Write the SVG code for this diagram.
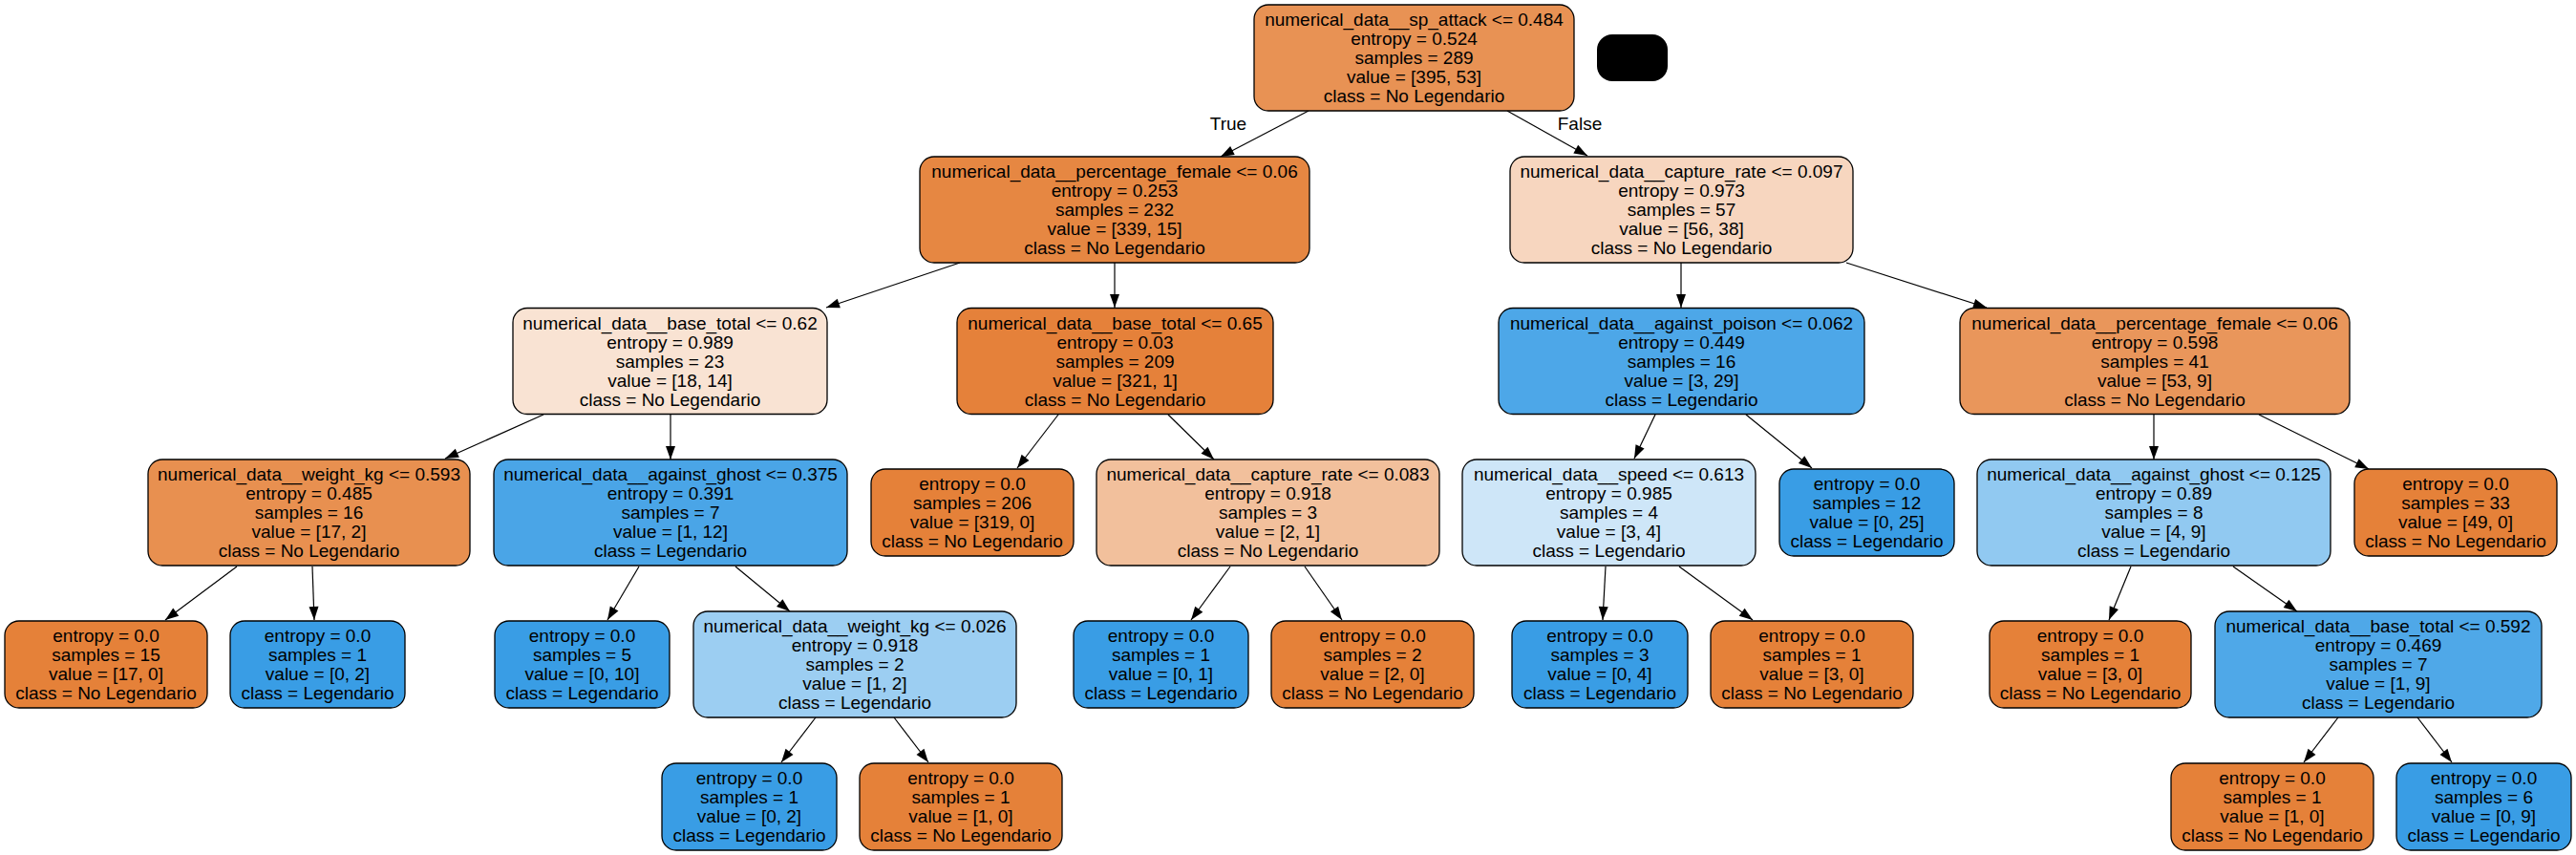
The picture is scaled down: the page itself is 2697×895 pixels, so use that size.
<svg xmlns="http://www.w3.org/2000/svg" width="2697" height="895" viewBox="0 0 2697 895">
<style>
.n rect{stroke:#000;stroke-width:1.3}
text{font-family:"Liberation Sans",Arial,sans-serif;font-size:19px;fill:#000;text-anchor:middle}
.e line{stroke:#000;stroke-width:1.2;marker-end:url(#arr)}
</style>
<defs>
<marker id="arr" markerUnits="userSpaceOnUse" markerWidth="15" markerHeight="11" refX="14" refY="5" orient="auto" overflow="visible"><path d="M0,0 L14,5 L0,10 z" fill="#000"/></marker>
</defs>
<rect width="2697" height="895" fill="#fff"/>
<g id="edges" class="e">
<line x1="1370" y1="116" x2="1278" y2="164"/>
<line x1="1578" y1="116" x2="1662" y2="163"/>
<line x1="1005" y1="275" x2="865" y2="322"/>
<line x1="1167" y1="275" x2="1167" y2="322"/>
<line x1="569" y1="434" x2="466" y2="480"/>
<line x1="702" y1="434" x2="702" y2="481"/>
<line x1="248" y1="593" x2="173" y2="649"/>
<line x1="327" y1="593" x2="329" y2="649"/>
<line x1="669" y1="593" x2="636" y2="649"/>
<line x1="770" y1="593" x2="827" y2="640"/>
<line x1="854" y1="751" x2="818" y2="798"/>
<line x1="936" y1="751" x2="972" y2="798"/>
<line x1="1108" y1="434" x2="1065" y2="490"/>
<line x1="1223" y1="434" x2="1271" y2="481"/>
<line x1="1288" y1="593" x2="1247" y2="649"/>
<line x1="1366" y1="593" x2="1405" y2="649"/>
<line x1="1760" y1="275" x2="1760" y2="322"/>
<line x1="1933" y1="275" x2="2080" y2="322"/>
<line x1="1733" y1="434" x2="1711" y2="480"/>
<line x1="1828" y1="434" x2="1897" y2="490"/>
<line x1="1681" y1="593" x2="1678" y2="649"/>
<line x1="1758" y1="593" x2="1835" y2="649"/>
<line x1="2255" y1="434" x2="2255" y2="481"/>
<line x1="2365" y1="434" x2="2480" y2="491"/>
<line x1="2231" y1="593" x2="2208" y2="649"/>
<line x1="2338" y1="593" x2="2405" y2="640"/>
<line x1="2448" y1="751" x2="2412" y2="798"/>
<line x1="2531" y1="751" x2="2567" y2="798"/>
<text x="1286" y="136">True</text>
<text x="1654" y="136">False</text>
</g>
<g id="legend"><rect x="1672" y="36" width="74" height="49" rx="16" fill="#000"/></g>
<g id="n0" class="n"><rect x="1313" y="5" width="335" height="111" rx="15" fill="#e89254"/><text x="1480.5" y="27"><tspan x="1480.5">numerical_data__sp_attack &lt;= 0.484</tspan><tspan x="1480.5" dy="20">entropy = 0.524</tspan><tspan x="1480.5" dy="20">samples = 289</tspan><tspan x="1480.5" dy="20">value = [395, 53]</tspan><tspan x="1480.5" dy="20">class = No Legendario</tspan></text></g>
<g id="n1" class="n"><rect x="963" y="164" width="408" height="111" rx="15" fill="#e68742"/><text x="1167" y="186"><tspan x="1167">numerical_data__percentage_female &lt;= 0.06</tspan><tspan x="1167" dy="20">entropy = 0.253</tspan><tspan x="1167" dy="20">samples = 232</tspan><tspan x="1167" dy="20">value = [339, 15]</tspan><tspan x="1167" dy="20">class = No Legendario</tspan></text></g>
<g id="n2" class="n"><rect x="537" y="322.5" width="329" height="111" rx="15" fill="#f9e3d3"/><text x="701.5" y="344.5"><tspan x="701.5">numerical_data__base_total &lt;= 0.62</tspan><tspan x="701.5" dy="20">entropy = 0.989</tspan><tspan x="701.5" dy="20">samples = 23</tspan><tspan x="701.5" dy="20">value = [18, 14]</tspan><tspan x="701.5" dy="20">class = No Legendario</tspan></text></g>
<g id="n3" class="n"><rect x="155" y="481" width="337" height="111" rx="15" fill="#e89050"/><text x="323.5" y="503"><tspan x="323.5">numerical_data__weight_kg &lt;= 0.593</tspan><tspan x="323.5" dy="20">entropy = 0.485</tspan><tspan x="323.5" dy="20">samples = 16</tspan><tspan x="323.5" dy="20">value = [17, 2]</tspan><tspan x="323.5" dy="20">class = No Legendario</tspan></text></g>
<g id="n4" class="n"><rect x="5" y="650" width="212" height="91" rx="15" fill="#e58139"/><text x="111" y="672"><tspan x="111">entropy = 0.0</tspan><tspan x="111" dy="20">samples = 15</tspan><tspan x="111" dy="20">value = [17, 0]</tspan><tspan x="111" dy="20">class = No Legendario</tspan></text></g>
<g id="n5" class="n"><rect x="241" y="650" width="183" height="91" rx="15" fill="#399de5"/><text x="332.5" y="672"><tspan x="332.5">entropy = 0.0</tspan><tspan x="332.5" dy="20">samples = 1</tspan><tspan x="332.5" dy="20">value = [0, 2]</tspan><tspan x="332.5" dy="20">class = Legendario</tspan></text></g>
<g id="n6" class="n"><rect x="517" y="481" width="370" height="111" rx="15" fill="#4aa5e7"/><text x="702" y="503"><tspan x="702">numerical_data__against_ghost &lt;= 0.375</tspan><tspan x="702" dy="20">entropy = 0.391</tspan><tspan x="702" dy="20">samples = 7</tspan><tspan x="702" dy="20">value = [1, 12]</tspan><tspan x="702" dy="20">class = Legendario</tspan></text></g>
<g id="n7" class="n"><rect x="518" y="650" width="183" height="91" rx="15" fill="#399de5"/><text x="609.5" y="672"><tspan x="609.5">entropy = 0.0</tspan><tspan x="609.5" dy="20">samples = 5</tspan><tspan x="609.5" dy="20">value = [0, 10]</tspan><tspan x="609.5" dy="20">class = Legendario</tspan></text></g>
<g id="n8" class="n"><rect x="726" y="640" width="338" height="111" rx="15" fill="#9ccef2"/><text x="895" y="662"><tspan x="895">numerical_data__weight_kg &lt;= 0.026</tspan><tspan x="895" dy="20">entropy = 0.918</tspan><tspan x="895" dy="20">samples = 2</tspan><tspan x="895" dy="20">value = [1, 2]</tspan><tspan x="895" dy="20">class = Legendario</tspan></text></g>
<g id="n9" class="n"><rect x="693" y="799" width="183" height="91" rx="15" fill="#399de5"/><text x="784.5" y="821"><tspan x="784.5">entropy = 0.0</tspan><tspan x="784.5" dy="20">samples = 1</tspan><tspan x="784.5" dy="20">value = [0, 2]</tspan><tspan x="784.5" dy="20">class = Legendario</tspan></text></g>
<g id="n10" class="n"><rect x="900" y="799" width="212" height="91" rx="15" fill="#e58139"/><text x="1006" y="821"><tspan x="1006">entropy = 0.0</tspan><tspan x="1006" dy="20">samples = 1</tspan><tspan x="1006" dy="20">value = [1, 0]</tspan><tspan x="1006" dy="20">class = No Legendario</tspan></text></g>
<g id="n11" class="n"><rect x="1002" y="322.5" width="331" height="111" rx="15" fill="#e5813a"/><text x="1167.5" y="344.5"><tspan x="1167.5">numerical_data__base_total &lt;= 0.65</tspan><tspan x="1167.5" dy="20">entropy = 0.03</tspan><tspan x="1167.5" dy="20">samples = 209</tspan><tspan x="1167.5" dy="20">value = [321, 1]</tspan><tspan x="1167.5" dy="20">class = No Legendario</tspan></text></g>
<g id="n12" class="n"><rect x="912" y="491" width="212" height="91" rx="15" fill="#e58139"/><text x="1018" y="513"><tspan x="1018">entropy = 0.0</tspan><tspan x="1018" dy="20">samples = 206</tspan><tspan x="1018" dy="20">value = [319, 0]</tspan><tspan x="1018" dy="20">class = No Legendario</tspan></text></g>
<g id="n13" class="n"><rect x="1148" y="481" width="359" height="111" rx="15" fill="#f2c09c"/><text x="1327.5" y="503"><tspan x="1327.5">numerical_data__capture_rate &lt;= 0.083</tspan><tspan x="1327.5" dy="20">entropy = 0.918</tspan><tspan x="1327.5" dy="20">samples = 3</tspan><tspan x="1327.5" dy="20">value = [2, 1]</tspan><tspan x="1327.5" dy="20">class = No Legendario</tspan></text></g>
<g id="n14" class="n"><rect x="1124" y="650" width="183" height="91" rx="15" fill="#399de5"/><text x="1215.5" y="672"><tspan x="1215.5">entropy = 0.0</tspan><tspan x="1215.5" dy="20">samples = 1</tspan><tspan x="1215.5" dy="20">value = [0, 1]</tspan><tspan x="1215.5" dy="20">class = Legendario</tspan></text></g>
<g id="n15" class="n"><rect x="1331" y="650" width="212" height="91" rx="15" fill="#e58139"/><text x="1437" y="672"><tspan x="1437">entropy = 0.0</tspan><tspan x="1437" dy="20">samples = 2</tspan><tspan x="1437" dy="20">value = [2, 0]</tspan><tspan x="1437" dy="20">class = No Legendario</tspan></text></g>
<g id="n16" class="n"><rect x="1581" y="164" width="359" height="111" rx="15" fill="#f7d6bf"/><text x="1760.5" y="186"><tspan x="1760.5">numerical_data__capture_rate &lt;= 0.097</tspan><tspan x="1760.5" dy="20">entropy = 0.973</tspan><tspan x="1760.5" dy="20">samples = 57</tspan><tspan x="1760.5" dy="20">value = [56, 38]</tspan><tspan x="1760.5" dy="20">class = No Legendario</tspan></text></g>
<g id="n17" class="n"><rect x="1569" y="322.5" width="383" height="111" rx="15" fill="#4da7e8"/><text x="1760.5" y="344.5"><tspan x="1760.5">numerical_data__against_poison &lt;= 0.062</tspan><tspan x="1760.5" dy="20">entropy = 0.449</tspan><tspan x="1760.5" dy="20">samples = 16</tspan><tspan x="1760.5" dy="20">value = [3, 29]</tspan><tspan x="1760.5" dy="20">class = Legendario</tspan></text></g>
<g id="n18" class="n"><rect x="1531" y="481" width="307" height="111" rx="15" fill="#cee6f8"/><text x="1684.5" y="503"><tspan x="1684.5">numerical_data__speed &lt;= 0.613</tspan><tspan x="1684.5" dy="20">entropy = 0.985</tspan><tspan x="1684.5" dy="20">samples = 4</tspan><tspan x="1684.5" dy="20">value = [3, 4]</tspan><tspan x="1684.5" dy="20">class = Legendario</tspan></text></g>
<g id="n19" class="n"><rect x="1583" y="650" width="184" height="91" rx="15" fill="#399de5"/><text x="1675" y="672"><tspan x="1675">entropy = 0.0</tspan><tspan x="1675" dy="20">samples = 3</tspan><tspan x="1675" dy="20">value = [0, 4]</tspan><tspan x="1675" dy="20">class = Legendario</tspan></text></g>
<g id="n20" class="n"><rect x="1791" y="650" width="212" height="91" rx="15" fill="#e58139"/><text x="1897" y="672"><tspan x="1897">entropy = 0.0</tspan><tspan x="1897" dy="20">samples = 1</tspan><tspan x="1897" dy="20">value = [3, 0]</tspan><tspan x="1897" dy="20">class = No Legendario</tspan></text></g>
<g id="n21" class="n"><rect x="1863" y="491" width="183" height="91" rx="15" fill="#399de5"/><text x="1954.5" y="513"><tspan x="1954.5">entropy = 0.0</tspan><tspan x="1954.5" dy="20">samples = 12</tspan><tspan x="1954.5" dy="20">value = [0, 25]</tspan><tspan x="1954.5" dy="20">class = Legendario</tspan></text></g>
<g id="n22" class="n"><rect x="2052" y="322.5" width="408" height="111" rx="15" fill="#e9965b"/><text x="2256" y="344.5"><tspan x="2256">numerical_data__percentage_female &lt;= 0.06</tspan><tspan x="2256" dy="20">entropy = 0.598</tspan><tspan x="2256" dy="20">samples = 41</tspan><tspan x="2256" dy="20">value = [53, 9]</tspan><tspan x="2256" dy="20">class = No Legendario</tspan></text></g>
<g id="n23" class="n"><rect x="2070" y="481" width="370" height="111" rx="15" fill="#91c9f1"/><text x="2255" y="503"><tspan x="2255">numerical_data__against_ghost &lt;= 0.125</tspan><tspan x="2255" dy="20">entropy = 0.89</tspan><tspan x="2255" dy="20">samples = 8</tspan><tspan x="2255" dy="20">value = [4, 9]</tspan><tspan x="2255" dy="20">class = Legendario</tspan></text></g>
<g id="n24" class="n"><rect x="2083" y="650" width="211" height="91" rx="15" fill="#e58139"/><text x="2188.5" y="672"><tspan x="2188.5">entropy = 0.0</tspan><tspan x="2188.5" dy="20">samples = 1</tspan><tspan x="2188.5" dy="20">value = [3, 0]</tspan><tspan x="2188.5" dy="20">class = No Legendario</tspan></text></g>
<g id="n25" class="n"><rect x="2319" y="640" width="342" height="111" rx="15" fill="#4fa8e8"/><text x="2490" y="662"><tspan x="2490">numerical_data__base_total &lt;= 0.592</tspan><tspan x="2490" dy="20">entropy = 0.469</tspan><tspan x="2490" dy="20">samples = 7</tspan><tspan x="2490" dy="20">value = [1, 9]</tspan><tspan x="2490" dy="20">class = Legendario</tspan></text></g>
<g id="n26" class="n"><rect x="2273" y="799" width="212" height="91" rx="15" fill="#e58139"/><text x="2379" y="821"><tspan x="2379">entropy = 0.0</tspan><tspan x="2379" dy="20">samples = 1</tspan><tspan x="2379" dy="20">value = [1, 0]</tspan><tspan x="2379" dy="20">class = No Legendario</tspan></text></g>
<g id="n27" class="n"><rect x="2509" y="799" width="183" height="91" rx="15" fill="#399de5"/><text x="2600.5" y="821"><tspan x="2600.5">entropy = 0.0</tspan><tspan x="2600.5" dy="20">samples = 6</tspan><tspan x="2600.5" dy="20">value = [0, 9]</tspan><tspan x="2600.5" dy="20">class = Legendario</tspan></text></g>
<g id="n28" class="n"><rect x="2465" y="491" width="212" height="91" rx="15" fill="#e58139"/><text x="2571" y="513"><tspan x="2571">entropy = 0.0</tspan><tspan x="2571" dy="20">samples = 33</tspan><tspan x="2571" dy="20">value = [49, 0]</tspan><tspan x="2571" dy="20">class = No Legendario</tspan></text></g>
</svg>
